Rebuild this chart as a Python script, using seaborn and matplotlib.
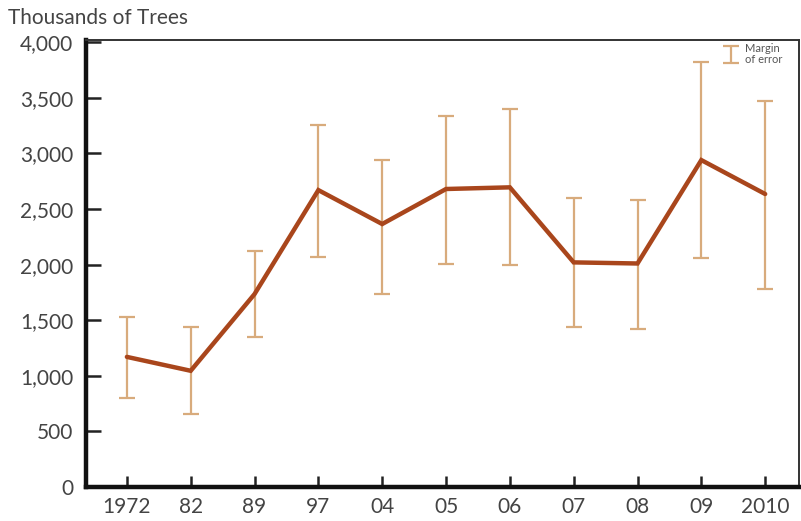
import matplotlib
matplotlib.use("Agg")
import matplotlib.pyplot as plt
from matplotlib.legend_handler import HandlerErrorbar
import seaborn as sns
import pandas as pd

# Survey years and estimated trees (thousands) with margin-of-error bounds
years = ["1972", "82", "89", "97", "04", "05", "06", "07", "08", "09", "2010"]
trees = [1170, 1045, 1735, 2670, 2365, 2680, 2695, 2020, 2010, 2940, 2635]
lower = [800, 655, 1345, 2065, 1735, 2005, 1995, 1435, 1420, 2055, 1785]
upper = [1530, 1435, 2120, 3255, 2940, 3335, 3400, 2600, 2585, 3820, 3475]
y_ticks = [0, 500, 1000, 1500, 2000, 2500, 3000, 3500, 4000]

df = pd.DataFrame({"pos": range(len(years)), "year": years, "trees": trees,
                   "lower": lower, "upper": upper})

sns.set_theme(style="white")
plt.rcParams["font.family"] = ["Lato", "DejaVu Sans"]

line_color = "#A9461C"
err_color = "#D8AB7C"
text_color = "#444444"

fig = plt.figure(figsize=(8.01, 5.21), dpi=100)
ax = fig.add_axes([0.1074, 0.0653, 0.8901, 0.8579])

eb = ax.errorbar(df["pos"], df["trees"],
                 yerr=[df["trees"] - df["lower"], df["upper"] - df["trees"]],
                 fmt="none", ecolor=err_color, elinewidth=1.6,
                 capsize=6, capthick=1.6, zorder=2)

sns.lineplot(data=df, x="pos", y="trees", ax=ax, color=line_color,
             linewidth=3.2, zorder=3, sort=False, solid_joinstyle="miter")

ax.set_xlim(-0.64, 10.53)
ax.set_ylim(0, 4020)
ax.set_xticks(df["pos"])
ax.set_xticklabels(years)
ax.set_yticks(y_ticks)
ax.set_yticklabels([f"{v:,}" for v in y_ticks])
ax.set_xlabel("")
ax.set_ylabel("")

for side in ["left", "bottom"]:
    ax.spines[side].set_linewidth(3.2)
    ax.spines[side].set_color("#111111")
for side in ["top", "right"]:
    ax.spines[side].set_linewidth(1.4)
    ax.spines[side].set_color("#333333")

ax.tick_params(axis="y", direction="in", length=11, width=1.8,
               color="#222222", labelsize=15, labelcolor=text_color, pad=9,
               left=True)
ax.tick_params(axis="x", direction="in", length=8, width=1.8,
               color="#222222", labelsize=15, labelcolor=text_color, pad=7,
               bottom=True)

fig.text(0.010, 0.965, "Thousands of Trees", fontsize=15, color=text_color,
         ha="left", va="center")

leg = ax.legend([eb], ["Margin\nof error"], loc="upper right",
                bbox_to_anchor=(0.977, 0.993), borderaxespad=0, borderpad=0,
                frameon=False, fontsize=8, handlelength=1.1,
                handletextpad=0.7, labelspacing=0.2,
                handler_map={type(eb): HandlerErrorbar(xerr_size=0.5,
                                                       yerr_size=0.75)})
for t in leg.get_texts():
    t.set_color("#555555")
    t.set_linespacing(0.95)

fig.savefig("out.png", dpi=100)
